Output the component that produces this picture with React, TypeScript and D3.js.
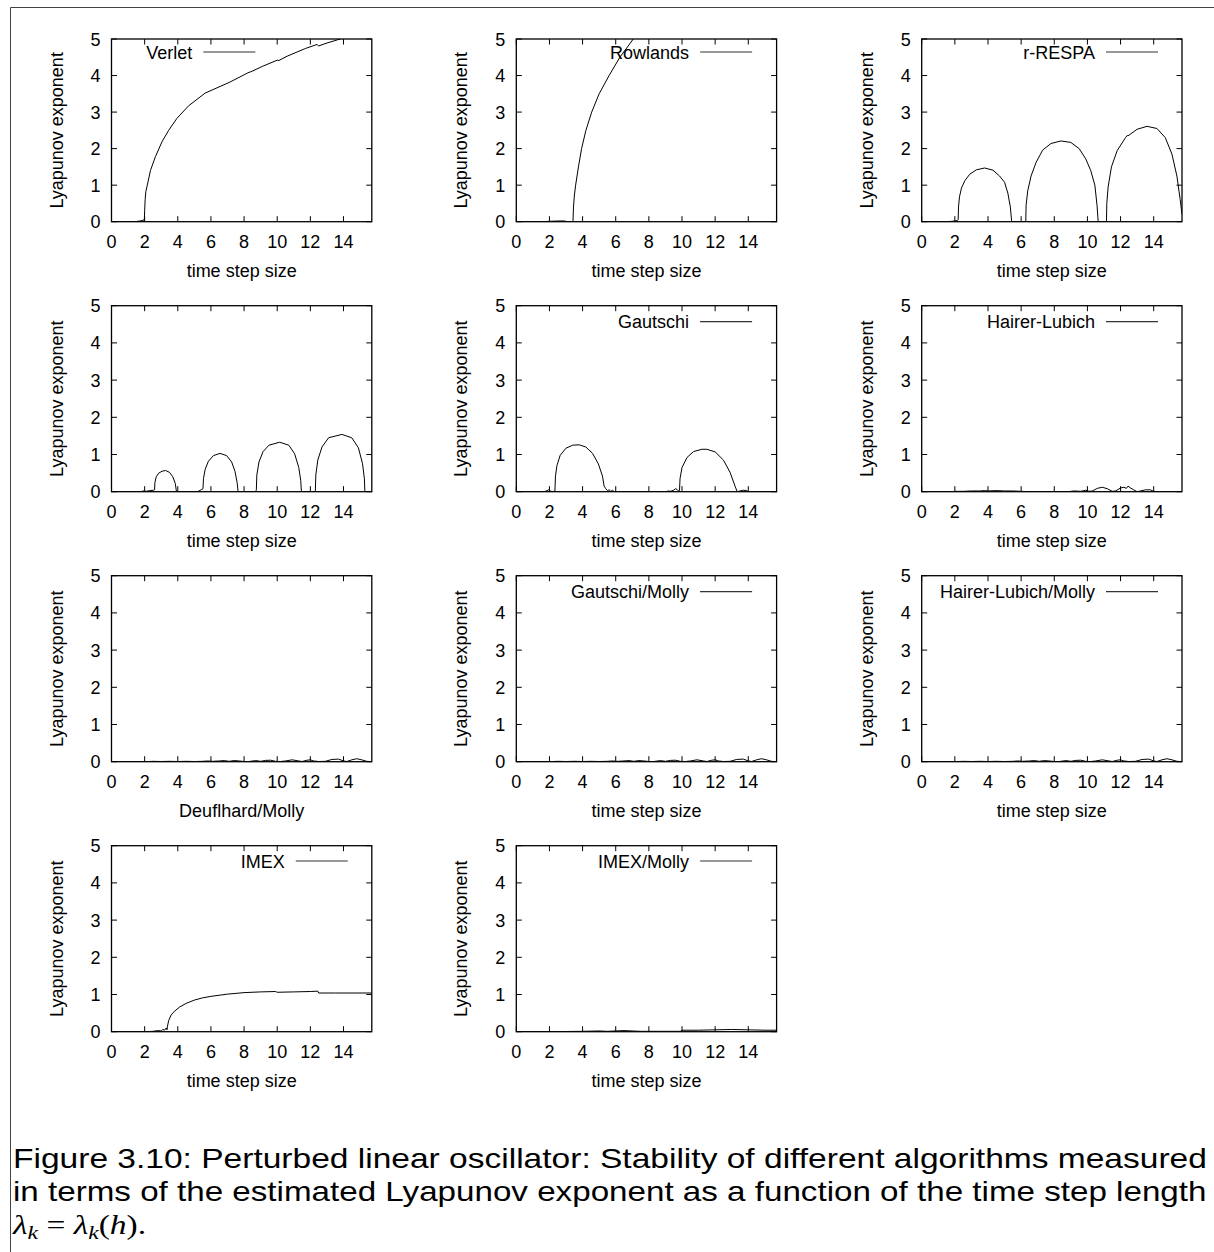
import React, { useLayoutEffect, useRef } from 'react';
import * as d3 from 'd3';

type Pt = [number, number];

// ---- data (x = time step size, y = Lyapunov exponent) ----
const verlet: Pt[] = [
  [0, 0], [1.0, 0], [1.5, 0.005], [1.7, 0.02], [1.85, 0.03], [1.95, 0.05], [1.98, 0.02], [2.0, 0.3],
  [2.03, 0.6], [2.07, 0.82], [2.15, 0.98], [2.35, 1.4], [2.65, 1.78], [3.05, 2.19], [3.45, 2.5],
  [3.95, 2.83], [4.65, 3.17], [5.65, 3.52], [7.1, 3.81], [8.3, 4.09], [8.4, 4.1], [9.1, 4.25],
  [10.0, 4.42], [10.1, 4.41], [10.6, 4.53], [11.7, 4.74], [12.4, 4.85], [12.5, 4.81], [13.0, 4.89],
  [13.8, 5.0], [14.5, 5.1],
];

const rowlands: Pt[] = [
  [0, 0], [1.5, 0], [2.0, 0.01], [2.5, 0.02], [2.9, 0.02], [3.1, 0], [3.42, 0], [3.45, 0.4],
  [3.5, 0.7], [3.58, 1.0], [3.75, 1.5], [3.94, 2.0], [4.2, 2.5], [4.55, 3.0], [5.0, 3.5],
  [5.6, 4.0], [6.25, 4.5], [7.06, 5.0], [7.5, 5.25],
];

const rRespa: Pt[] = [
  [0, 0], [1.5, 0], [1.8, 0.01], [2.0, 0.02], [2.15, 0.03], [2.2, 0.05], [2.22, 0.4], [2.28, 0.68],
  [2.4, 0.92], [2.6, 1.12], [2.9, 1.3], [3.3, 1.42], [3.8, 1.47], [4.3, 1.41], [4.7, 1.25],
  [5.0, 1.08], [5.2, 0.78], [5.35, 0.4], [5.43, 0],
  [6.28, 0], [6.3, 0.45], [6.4, 0.85], [6.6, 1.25], [6.9, 1.62], [7.3, 1.96], [7.8, 2.14],
  [8.4, 2.21], [9.0, 2.17], [9.5, 2.0], [9.9, 1.72], [10.2, 1.4], [10.45, 1.0], [10.58, 0.45], [10.65, 0],
  [11.15, 0], [11.17, 0.5], [11.25, 0.95], [11.45, 1.5], [11.8, 1.95], [12.3, 2.3], [12.4, 2.36],
  [12.45, 2.35], [13.0, 2.53], [13.6, 2.61], [14.2, 2.55], [14.7, 2.3], [15.1, 1.85], [15.4, 1.25],
  [15.6, 0.6], [15.708, 0.2],
];

const unlabeled: Pt[] = [
  [0, 0], [1.8, 0], [1.9, 0.02], [2.1, 0.01], [2.3, 0.03], [2.55, 0.04], [2.6, 0.05], [2.62, 0.25],
  [2.7, 0.4], [2.85, 0.5], [3.05, 0.55], [3.26, 0.57], [3.5, 0.52], [3.7, 0.4], [3.85, 0.22], [3.92, 0],
  [5.2, 0], [5.3, 0.03], [5.45, 0.06], [5.52, 0.08], [5.55, 0.35], [5.65, 0.6], [5.85, 0.82],
  [6.15, 0.97], [6.55, 1.03], [6.95, 0.97], [7.25, 0.8], [7.45, 0.55], [7.58, 0.25], [7.64, 0],
  [8.7, 0], [8.74, 0.05], [8.77, 0.45], [8.9, 0.8], [9.15, 1.08], [9.5, 1.25], [10.15, 1.33],
  [10.7, 1.25], [11.05, 1.02], [11.3, 0.65], [11.42, 0.3], [11.46, 0],
  [12.3, 0], [12.33, 0.45], [12.45, 0.85], [12.7, 1.2], [13.1, 1.45], [13.9, 1.54], [14.5, 1.45],
  [14.9, 1.18], [15.15, 0.75], [15.26, 0.35], [15.29, 0], [15.708, 0],
];

const gautschi: Pt[] = [
  [0, 0], [1.7, 0], [1.85, 0.03], [1.95, 0.05], [2.05, 0.02], [2.2, 0], [2.33, 0.02], [2.36, 0.4],
  [2.45, 0.7], [2.65, 0.98], [3.0, 1.17], [3.4, 1.25], [3.8, 1.26], [4.2, 1.2], [4.6, 1.03],
  [4.95, 0.75], [5.2, 0.42], [5.3, 0.15], [5.4, 0.08], [5.5, 0.03], [5.6, 0.05], [5.7, 0.01],
  [5.8, 0.04], [5.9, 0], [9.0, 0], [9.2, 0.02], [9.3, 0.01], [9.5, 0.04], [9.6, 0.08], [9.7, 0.06],
  [9.78, 0.02], [9.85, 0.03], [9.88, 0.35], [10.0, 0.65], [10.3, 0.92], [10.7, 1.08], [11.2, 1.14],
  [11.5, 1.14], [12.0, 1.07], [12.5, 0.85], [12.9, 0.52], [13.2, 0.15], [13.33, 0], [13.5, 0.02],
  [13.7, 0.04], [13.9, 0.03], [14.0, 0], [15.708, 0],
];

const hairerLubich: Pt[] = [
  [0, 0], [1.8, 0], [2.0, 0.01], [2.5, 0.01], [3.0, 0.02], [3.5, 0.02], [3.8, 0.03], [4.0, 0.02],
  [4.5, 0.03], [5.0, 0.02], [5.5, 0.02], [6.0, 0.01], [6.5, 0], [8.8, 0], [9.2, 0.02], [9.6, 0.01],
  [9.9, 0.04], [10.1, 0.01], [10.3, 0.02], [10.6, 0.09], [10.9, 0.12], [11.2, 0.08], [11.5, 0.01],
  [11.7, 0.02], [12.0, 0.1], [12.2, 0.12], [12.35, 0.09], [12.45, 0.15], [12.6, 0.1], [12.8, 0.05],
  [13.0, 0], [13.2, 0.02], [13.5, 0.05], [13.8, 0.05], [14.0, 0.01], [14.2, 0], [15.708, 0],
];

const deuflhardMolly: Pt[] = [
  [0, 0], [2.0, 0], [2.5, 0.01], [3.0, 0.005], [3.5, 0.01], [4.0, 0.005], [4.5, 0.01], [5.0, 0.005],
  [5.5, 0.01], [5.8, 0.02], [6.1, 0.01], [6.5, 0.02], [6.8, 0.03], [7.1, 0.01], [7.4, 0.03],
  [7.7, 0.02], [8.0, 0.005], [8.3, 0.005], [8.7, 0.03], [9.0, 0.01], [9.3, 0.035], [9.6, 0.04],
  [9.9, 0.01], [10.2, 0.005], [10.5, 0.02], [10.9, 0.05], [11.3, 0.02], [11.5, 0.005], [11.8, 0.04],
  [12.0, 0.05], [12.2, 0.02], [12.5, 0.005], [12.9, 0.01], [13.3, 0.06], [13.7, 0.07], [14.0, 0.02],
  [14.2, 0.005], [14.5, 0.05], [14.8, 0.08], [15.1, 0.05], [15.4, 0.01], [15.708, 0],
];

const gautschiMolly: Pt[] = [
  [0, 0], [2.0, 0], [2.5, 0.01], [3.0, 0.005], [3.5, 0.01], [4.0, 0.005], [4.5, 0.01], [5.0, 0.005],
  [5.5, 0.01], [5.8, 0.02], [6.1, 0.01], [6.5, 0.02], [6.8, 0.03], [7.1, 0.01], [7.4, 0.03],
  [7.7, 0.02], [8.0, 0.005], [8.3, 0.005], [8.7, 0.03], [9.0, 0.01], [9.3, 0.035], [9.6, 0.04],
  [9.9, 0.01], [10.2, 0.005], [10.5, 0.02], [10.9, 0.05], [11.3, 0.02], [11.5, 0.005], [11.8, 0.04],
  [12.0, 0.05], [12.2, 0.02], [12.5, 0.005], [12.9, 0.01], [13.3, 0.06], [13.7, 0.07], [14.0, 0.02],
  [14.2, 0.005], [14.5, 0.05], [14.8, 0.08], [15.1, 0.05], [15.4, 0.01], [15.708, 0],
];

const hairerLubichMolly: Pt[] = [
  [0, 0], [2.0, 0], [2.5, 0.01], [3.0, 0.005], [3.5, 0.01], [4.0, 0.005], [4.5, 0.01], [5.0, 0.005],
  [5.5, 0.01], [5.8, 0.02], [6.1, 0.01], [6.5, 0.02], [6.8, 0.03], [7.1, 0.01], [7.4, 0.03],
  [7.7, 0.02], [8.0, 0.005], [8.3, 0.005], [8.7, 0.03], [9.0, 0.01], [9.3, 0.035], [9.6, 0.04],
  [9.9, 0.01], [10.2, 0.005], [10.5, 0.02], [10.9, 0.05], [11.3, 0.02], [11.5, 0.005], [11.8, 0.04],
  [12.0, 0.05], [12.2, 0.02], [12.5, 0.005], [12.9, 0.01], [13.3, 0.06], [13.7, 0.07], [14.0, 0.02],
  [14.2, 0.005], [14.5, 0.05], [14.8, 0.08], [15.1, 0.05], [15.4, 0.01], [15.708, 0],
];

const imex: Pt[] = [
  [0, 0], [2.0, 0], [2.5, 0.01], [2.8, 0.03], [3.0, 0.02], [3.1, 0.06], [3.2, 0.04], [3.3, 0.1],
  [3.35, 0.05], [3.38, 0.15], [3.45, 0.3], [3.6, 0.45], [3.8, 0.55], [4.1, 0.66], [4.5, 0.76],
  [5.0, 0.85], [5.5, 0.91], [6.0, 0.95], [7.0, 1.01], [8.0, 1.05], [9.0, 1.07], [9.9, 1.08],
  [10.0, 1.06], [11.0, 1.07], [12.0, 1.08], [12.45, 1.09], [12.5, 1.04], [13.5, 1.04], [15.708, 1.04],
];

const imexMolly: Pt[] = [
  [0, 0], [3.0, 0.005], [4.0, 0.01], [5.0, 0.02], [5.5, 0.01], [6.5, 0.03], [7.0, 0.02], [7.5, 0.01],
  [9.9, 0.01], [10.0, 0.04], [11.0, 0.04], [12.0, 0.05], [13.0, 0.06], [14.0, 0.05], [15.0, 0.04],
  [15.708, 0.04],
];

const xTicks = [0, 2, 4, 6, 8, 10, 12, 14];
const yTicks = [0, 1, 2, 3, 4, 5];
const xDomain: [number, number] = [0, 15.708];
const yDomain: [number, number] = [0, 5];

const yLabel = 'Lyapunov exponent';
const xLabelDefault = 'time step size';

const captionLines = [
  'Figure 3.10: Perturbed linear oscillator: Stability of different algorithms measured',
  'in terms of the estimated Lyapunov exponent as a function of the time step length',
];

// ---- layout (pixels) ----
const colLeft = [111.5, 516.3, 921.7];
const plotW = 260.3;
const rowTop = [39, 305.7, 575.7, 845.7];
const rowBottom = [221.7, 491.7, 761.7, 1031.7];
const legendY = [52, 321.7, 591.7, 861];

type Panel = {
  id: string;
  legend: string | null;
  data: Pt[];
  xlabel: string;
  row: number;
  col: number;
  legendRightGap: number;
};

const panels: Panel[] = [
  { id: 'p1', legend: 'Verlet', data: verlet, xlabel: xLabelDefault, row: 0, col: 0, legendRightGap: 116.5 },
  { id: 'p2', legend: 'Rowlands', data: rowlands, xlabel: xLabelDefault, row: 0, col: 1, legendRightGap: 24.5 },
  { id: 'p3', legend: 'r-RESPA', data: rRespa, xlabel: xLabelDefault, row: 0, col: 2, legendRightGap: 24 },
  { id: 'p4', legend: null, data: unlabeled, xlabel: xLabelDefault, row: 1, col: 0, legendRightGap: 24 },
  { id: 'p5', legend: 'Gautschi', data: gautschi, xlabel: xLabelDefault, row: 1, col: 1, legendRightGap: 24.5 },
  { id: 'p6', legend: 'Hairer-Lubich', data: hairerLubich, xlabel: xLabelDefault, row: 1, col: 2, legendRightGap: 24 },
  { id: 'p7', legend: null, data: deuflhardMolly, xlabel: 'Deuflhard/Molly', row: 2, col: 0, legendRightGap: 24 },
  { id: 'p8', legend: 'Gautschi/Molly', data: gautschiMolly, xlabel: xLabelDefault, row: 2, col: 1, legendRightGap: 24.5 },
  { id: 'p9', legend: 'Hairer-Lubich/Molly', data: hairerLubichMolly, xlabel: xLabelDefault, row: 2, col: 2, legendRightGap: 24 },
  { id: 'p10', legend: 'IMEX', data: imex, xlabel: xLabelDefault, row: 3, col: 0, legendRightGap: 24 },
  { id: 'p11', legend: 'IMEX/Molly', data: imexMolly, xlabel: xLabelDefault, row: 3, col: 1, legendRightGap: 24.5 },
];

const FONT = '"Liberation Sans", Arial, Helvetica, sans-serif';
const FS = 18;
const TICK = 5.5;

function PanelView({ p }: { p: Panel }) {
  const left = colLeft[p.col];
  const right = left + plotW;
  const top = rowTop[p.row];
  const bottom = rowBottom[p.row];
  const x = d3.scaleLinear().domain(xDomain).range([left, right]);
  const y = d3.scaleLinear().domain(yDomain).range([bottom, top]);
  const line = d3.line<Pt>().x((d) => x(d[0])).y((d) => y(d[1]));
  const clipId = `clip-${p.id}`;
  const lineEnd = right - p.legendRightGap;
  const lineStart = lineEnd - 52;
  const ly = legendY[p.row];
  const midY = (top + bottom) / 2;
  return (
    <g>
      <defs>
        <clipPath id={clipId}>
          <rect x={left} y={top} width={right - left} height={bottom - top} />
        </clipPath>
      </defs>
      {xTicks.map((t) => (
        <g key={'xt' + t}>
          <line x1={x(t)} x2={x(t)} y1={bottom} y2={bottom - TICK} stroke="#000" strokeWidth={1} />
          <line x1={x(t)} x2={x(t)} y1={top} y2={top + TICK} stroke="#000" strokeWidth={1} />
          <text x={x(t)} y={bottom + 26} textAnchor="middle" fontFamily={FONT} fontSize={FS} fill="#000">
            {t}
          </text>
        </g>
      ))}
      {yTicks.map((t) => (
        <g key={'yt' + t}>
          <line x1={left} x2={left + TICK} y1={y(t)} y2={y(t)} stroke="#000" strokeWidth={1} />
          <line x1={right} x2={right - TICK} y1={y(t)} y2={y(t)} stroke="#000" strokeWidth={1} />
          <text x={left - 11} y={y(t) + 6.5} textAnchor="end" fontFamily={FONT} fontSize={FS} fill="#000">
            {t}
          </text>
        </g>
      ))}
      <text x={(left + right) / 2} y={bottom + 55} textAnchor="middle" fontFamily={FONT} fontSize={FS} fill="#000">
        {p.xlabel}
      </text>
      <text
        transform={`translate(${left - 49},${midY}) rotate(-90)`}
        textAnchor="middle"
        fontFamily={FONT}
        fontSize={FS}
        fill="#000"
      >
        {yLabel}
      </text>
      {p.legend && (
        <g>
          <text x={lineStart - 11} y={ly + 6.5} textAnchor="end" fontFamily={FONT} fontSize={FS} fill="#000">
            {p.legend}
          </text>
          <line x1={lineStart} x2={lineEnd} y1={ly} y2={ly} stroke="#333" strokeWidth={1.2} />
        </g>
      )}
      <path d={line(p.data) || ''} fill="none" stroke="#000" strokeWidth={1} clipPath={`url(#${clipId})`} />
      <rect x={left} y={top} width={right - left} height={bottom - top} fill="none" stroke="#000" strokeWidth={1.3} />
    </g>
  );
}

const CAP_FS = 27;
const capLeft = 13;
const capRight = 1207;
const capBase = [1168, 1201, 1234];

export default function App() {
  const capRefs = useRef<(SVGTextElement | null)[]>([]);
  const mathRef = useRef<SVGTextElement | null>(null);
  useLayoutEffect(() => {
    let s0 = 1;
    captionLines.forEach((txt, i) => {
      const el = capRefs.current[i];
      if (!el) return;
      el.removeAttribute('transform');
      const w = el.getComputedTextLength();
      const s = (capRight - capLeft) / w;
      if (i === 0) s0 = s;
      el.setAttribute('transform', `translate(${capLeft},${capBase[i]}) scale(${s},1)`);
    });
    if (mathRef.current) {
      mathRef.current.setAttribute('transform', `translate(${capLeft},${capBase[2]}) scale(${s0},1)`);
    }
  }, []);
  return (
    <svg
      width={1214}
      height={1252}
      style={{ position: 'absolute', left: 0, top: 0, background: '#fff' }}
      xmlns="http://www.w3.org/2000/svg"
    >
      <rect x={0} y={0} width={1214} height={1252} fill="#fff" />
      <line x1={10.5} x2={1214} y1={7.5} y2={7.5} stroke="#444" strokeWidth={1} />
      <line x1={10.5} x2={10.5} y1={7.5} y2={1252} stroke="#444" strokeWidth={1} />
      {panels.map((p) => (
        <PanelView key={p.id} p={p} />
      ))}
      {captionLines.map((txt, i) => (
        <text
          key={i}
          ref={(el) => {
            capRefs.current[i] = el;
          }}
          x={0}
          y={0}
          transform={`translate(${capLeft},${capBase[i]})`}
          fontFamily={FONT}
          fontSize={CAP_FS}
          fill="#000"
        >
          {txt}
        </text>
      ))}
      <text
        ref={mathRef}
        x={0}
        y={0}
        transform={`translate(${capLeft},${capBase[2]})`}
        fontSize={CAP_FS}
        fill="#000"
        fontFamily='"Liberation Serif", "DejaVu Serif", serif'
      >
        <tspan fontStyle="italic">λ</tspan>
        <tspan fontStyle="italic" fontSize={19} dy={5}>k</tspan>
        <tspan dy={-5}> = </tspan>
        <tspan fontStyle="italic">λ</tspan>
        <tspan fontStyle="italic" fontSize={19} dy={5}>k</tspan>
        <tspan dy={-5}>(</tspan>
        <tspan fontStyle="italic">h</tspan>
        <tspan>).</tspan>
      </text>
    </svg>
  );
}
